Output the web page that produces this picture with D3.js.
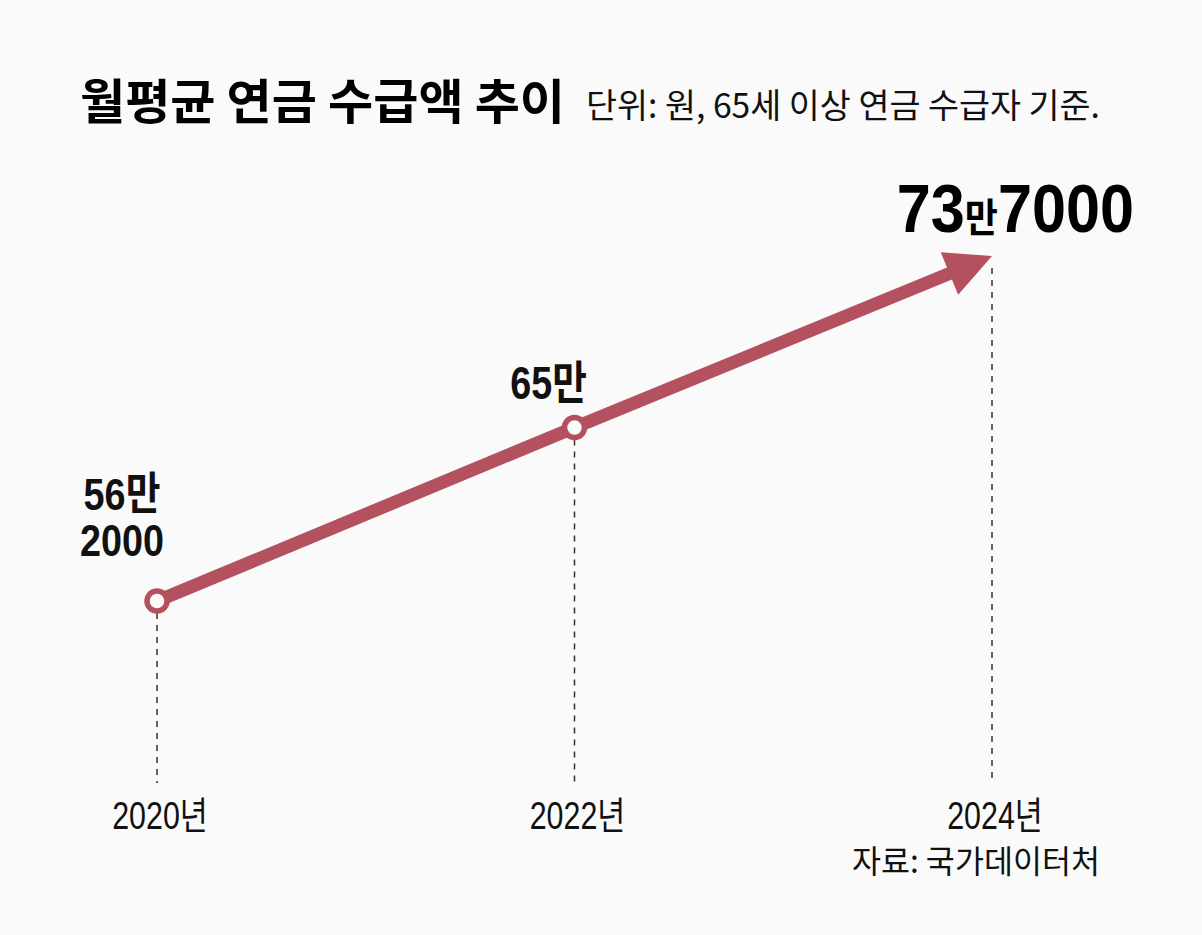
<!DOCTYPE html>
<html>
<head>
<meta charset="utf-8">
<script src="https://cdn.jsdelivr.net/npm/d3@7"></script>
<style>
  html, body { margin: 0; padding: 0; background: #fafafa; }
  svg { display: block; }
  .sans { font-family: "Liberation Sans", "Noto Sans CJK KR", sans-serif; }
  .kr { font-family: "Noto Sans CJK KR", sans-serif; }
</style>
</head>
<body>
<div id="chart"></div>
<script>
const years = [2020, 2022, 2024];
const yearLabels = ['2020년', '2022년', '2024년'];
const amounts = [562000, 650000, 737000];
const amountLabels = [['56만', '2000'], ['65만'], ['73', '만', '7000']];

const width = 1202, height = 935;
const lineColor = '#b4515f';

const svg = d3.select('#chart').append('svg')
    .attr('width', width)
    .attr('height', height);

svg.append('rect')
    .attr('width', width)
    .attr('height', height)
    .attr('fill', '#fafafa');

const x = d3.scaleLinear().domain([2020, 2024]).range([157, 992]);
const y = d3.scaleLinear().domain([562000, 737000]).range([601, 256]);
const baseY = 783;

// narrow text: a group squeezed horizontally around its anchor
function narrowText(px, py, sx) {
    return svg.append('g')
        .attr('transform', `translate(${px},${py}) scale(${sx},1)`)
        .append('text')
        .attr('class', 'sans');
}

// title
svg.append('text')
    .attr('class', 'kr')
    .attr('x', 80).attr('y', 119)
    .attr('textLength', 485).attr('lengthAdjust', 'spacingAndGlyphs')
    .style('font-size', '48px').style('font-weight', 700).style('fill', '#000')
    .text('월평균 연금 수급액 추이');

svg.append('text')
    .attr('class', 'kr')
    .attr('x', 586).attr('y', 118)
    .attr('textLength', 514).attr('lengthAdjust', 'spacingAndGlyphs')
    .style('font-size', '34px').style('fill', '#111')
    .text('단위: 원, 65세 이상 연금 수급자 기준.');

const pts = years.map((yr, i) => ({ year: yr, value: amounts[i] }));

// dashed guides
svg.selectAll('.guide')
    .data(pts)
    .enter().append('line')
    .attr('class', 'guide')
    .attr('x1', d => x(d.year)).attr('x2', d => x(d.year))
    .attr('y1', d => y(d.value) + 12).attr('y2', baseY)
    .attr('stroke', '#333').attr('stroke-width', 1.5)
    .attr('stroke-dasharray', '6,6');

// line, last segment pulled back for arrowhead
const last = pts[pts.length - 1];
const prev = pts[pts.length - 2];
const dx = x(last.year) - x(prev.year), dy = y(last.value) - y(prev.value);
const len = Math.sqrt(dx * dx + dy * dy);
const ang = Math.atan2(dy, dx) * 180 / Math.PI;
const headLen = 46;
const endPt = [x(last.year) - dx / len * (headLen - 6), y(last.value) - dy / len * (headLen - 6)];

const coords = pts.slice(0, -1).map(d => [x(d.year), y(d.value)]).concat([endPt]);
svg.append('path')
    .attr('d', d3.line()(coords))
    .attr('fill', 'none')
    .attr('stroke', lineColor)
    .attr('stroke-width', 13)
    .attr('stroke-linejoin', 'round');

svg.append('path')
    .attr('d', `M0,0 L${-headLen},-23 L${-headLen},23 Z`)
    .attr('transform', `translate(${x(last.year)},${y(last.value)}) rotate(${ang})`)
    .attr('fill', lineColor);

// circles
svg.selectAll('.dot')
    .data(pts.slice(0, -1))
    .enter().append('circle')
    .attr('class', 'dot')
    .attr('cx', d => x(d.year)).attr('cy', d => y(d.value))
    .attr('r', 10)
    .attr('fill', '#fafafa')
    .attr('stroke', lineColor)
    .attr('stroke-width', 5.5);

// value labels
narrowText(x(2020) - 35, y(amounts[0]) - 91, 0.84)
    .attr('text-anchor', 'middle')
    .style('font-size', '45px').style('font-weight', 700).style('fill', '#111')
    .text(amountLabels[0][0]);
narrowText(x(2020) - 35, y(amounts[0]) - 45, 0.84)
    .attr('text-anchor', 'middle')
    .style('font-size', '45px').style('font-weight', 700).style('fill', '#111')
    .text(amountLabels[0][1]);

narrowText(x(2022) - 26, y(amounts[1]) - 29, 0.82)
    .attr('text-anchor', 'middle')
    .style('font-size', '46px').style('font-weight', 700).style('fill', '#111')
    .text(amountLabels[1][0]);

const big = narrowText(1134, y(amounts[2]) - 24, 0.9)
    .attr('text-anchor', 'end')
    .style('font-weight', 700).style('fill', '#000');
big.append('tspan').style('font-size', '68px').text(amountLabels[2][0]);
big.append('tspan').style('font-size', '40px').attr('font-family', '"Noto Sans CJK KR", sans-serif').text(amountLabels[2][1]);
big.append('tspan').style('font-size', '68px').text(amountLabels[2][2]);

// year labels
years.forEach((d, i) => {
    narrowText(x(d) + 3, 829, 0.8)
        .attr('text-anchor', 'middle')
        .style('font-size', '38px').style('fill', '#111')
        .text(yearLabels[i]);
});

// source
svg.append('text')
    .attr('class', 'kr')
    .attr('x', 852).attr('y', 873)
    .attr('textLength', 248).attr('lengthAdjust', 'spacingAndGlyphs')
    .style('font-size', '32px').style('fill', '#111')
    .text('자료: 국가데이터처');
</script>
</body>
</html>
